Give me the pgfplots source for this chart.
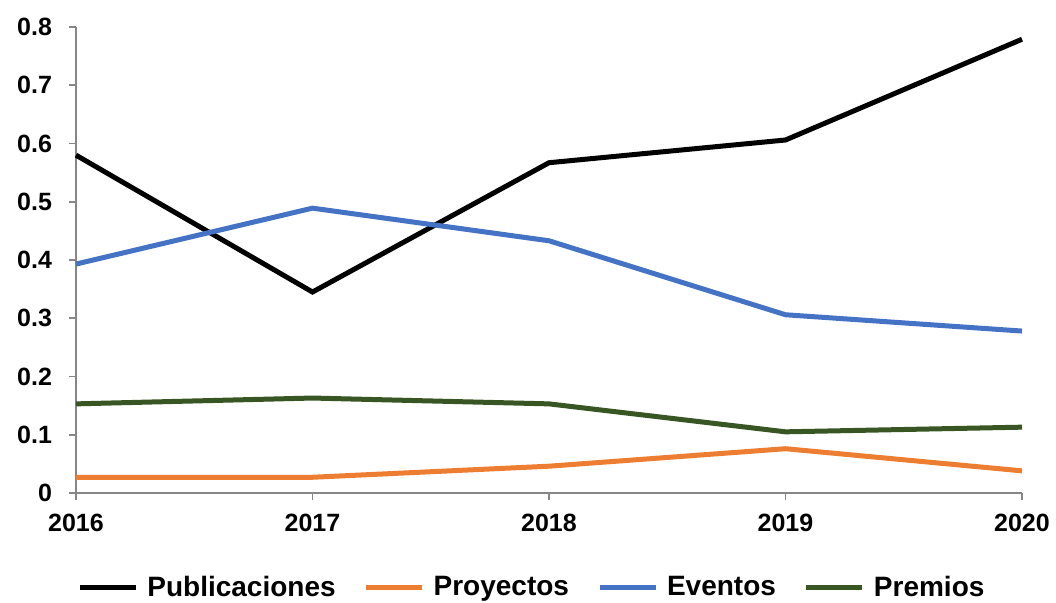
\documentclass[border=0pt]{standalone}
\usepackage{fontspec}
\setmainfont{Liberation Sans}
\usepackage{pgfplots}
\pgfplotsset{compat=1.18}

\definecolor{cpub}{RGB}{0,0,0}
\definecolor{cpro}{RGB}{237,125,49}
\definecolor{ceve}{RGB}{68,114,196}
\definecolor{cpre}{RGB}{55,86,35}
\definecolor{caxis}{RGB}{134,134,134}

\begin{document}
\begin{tikzpicture}
\begin{axis}[
    name=ax,
    scale only axis,
    width=473pt, height=233pt,
    xmin=2016, xmax=2020,
    ymin=0, ymax=0.8,
    axis x line*=bottom,
    axis y line*=left,
    axis line style={caxis, line width=0.8pt},
    tick style={caxis, line width=0.8pt},
    tick align=outside,
    major tick length=3.5pt,
    xtick={2016,2017,2018,2019,2020},
    xticklabels={2016,2017,2018,2019,2020},
    ytick={0,0.1,0.2,0.3,0.4,0.5,0.6,0.7,0.8},
    yticklabels={0,0.1,0.2,0.3,0.4,0.5,0.6,0.7,0.8},
    ticklabel style={font=\fontsize{12.5}{14}\selectfont\bfseries},
    yticklabel style={xshift=-5pt},
    xticklabel style={yshift=-3.5pt},
    clip=false,
    legend style={
        at={(0.483,-0.203)}, anchor=center,
        draw=none, fill=none,
        legend columns=4,
        font=\fontsize{14}{16}\selectfont\bfseries,
        /tikz/every even column/.append style={column sep=12pt},
        /tikz/every odd column/.append style={column sep=2.5pt},
    },
    legend image code/.code={
        \draw[#1] (0pt,0pt) -- (28pt,0pt);
    },
]
\addplot[cpub, line width=2.5pt] coordinates {
    (2016,0.580) (2017,0.345) (2018,0.567) (2019,0.606) (2020,0.779)
};
\addlegendentry{Publicaciones}
\addplot[cpro, line width=2.5pt] coordinates {
    (2016,0.027) (2017,0.027) (2018,0.046) (2019,0.076) (2020,0.038)
};
\addlegendentry{Proyectos}
\addplot[ceve, line width=2.5pt] coordinates {
    (2016,0.393) (2017,0.489) (2018,0.433) (2019,0.306) (2020,0.278)
};
\addlegendentry{Eventos}
\addplot[cpre, line width=2.5pt] coordinates {
    (2016,0.153) (2017,0.163) (2018,0.153) (2019,0.105) (2020,0.113)
};
\addlegendentry{Premios}
\end{axis}
\pgfresetboundingbox
\useasboundingbox ([xshift=-38pt,yshift=-55pt]ax.south west) rectangle ([xshift=17pt,yshift=13.5pt]ax.north east);
\end{tikzpicture}
\end{document}
